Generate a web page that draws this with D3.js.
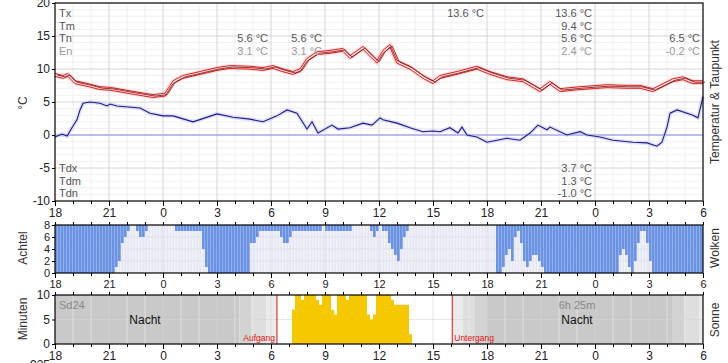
<!DOCTYPE html>
<html>
<head>
<meta charset="utf-8">
<script src="https://cdn.jsdelivr.net/npm/d3@7"></script>
<style>
body { margin: 0; background: #fff; }
text { font-family: "Liberation Sans", Arial, sans-serif; }
</style>
</head>
<body>
<div id="chart"></div>
<script>
// hours counted from 18:00 of the first day
var tickLabels = ["18", "21", "0", "3", "6", "9", "12", "15", "18", "21", "0", "3", "6"];

var tempHours = [0, 0.44, 0.72, 1.11, 1.78, 2.5, 3.06, 4.33, 5.44, 6.11, 6.56, 7.11, 8.06, 9.0, 9.72,
    10.83, 11.56, 12.11, 12.67, 13.22, 13.61, 14.0, 14.56, 15.28, 16.0, 16.39, 17.11, 17.89, 18.22, 18.61,
    19.0, 19.72, 20.44, 21.0, 21.39, 22.33, 23.44, 24.17, 25.11, 26.0, 26.94, 27.5, 28.06, 29.17, 30.67,
    31.78, 32.5, 33.22, 34.33, 34.89, 35.44, 36];
var tempValues = [9.1, 8.8, 9.1, 8.0, 7.6, 7.1, 7.0, 6.4, 5.9, 6.1, 8.0, 8.8, 9.4, 10.0, 10.3,
    10.2, 10.0, 10.3, 9.8, 9.4, 9.8, 11.4, 12.4, 12.6, 12.9, 11.8, 13.2, 11.1, 12.6, 13.5,
    11.1, 10.2, 8.8, 8.0, 8.8, 9.4, 10.2, 9.4, 8.6, 8.3, 6.8, 7.9, 6.8, 7.1, 7.4,
    7.3, 7.3, 6.8, 8.3, 8.6, 8.0, 8.0];

var dewHours = [0, 0.39, 0.67, 0.94, 1.22, 1.39, 1.56, 1.94, 2.5, 2.89, 3.06, 3.44, 4.72, 5.28, 6.0,
    6.56, 7.67, 9.0, 9.89, 10.83, 11.56, 12.33, 12.89, 13.44, 14.0, 14.28, 14.61, 15.39, 15.72, 16.39,
    17.11, 17.61, 18.06, 18.22, 19.0, 19.72, 20.44, 21.0, 21.39, 21.94, 22.39, 22.61, 22.89, 23.44, 24.0,
    24.56, 25.11, 25.83, 26.39, 26.83, 27.33, 27.5, 28.44, 29.17, 29.56, 30.28, 31.0, 32.11, 32.89, 33.44,
    33.72, 34.0, 34.17, 34.56, 35.44, 35.72, 36];
var dewValues = [-0.3, 0.15, -0.15, 1.1, 2.3, 3.8, 4.8, 5.0, 4.8, 4.4, 4.7, 4.4, 4.1, 3.3, 2.9,
    2.9, 2.0, 3.2, 2.7, 2.4, 2.0, 2.9, 3.8, 3.3, 0.9, 2.0, 0.3, 1.5, 0.9, 1.1,
    1.8, 1.5, 2.6, 2.3, 1.8, 1.1, 0.5, 0.6, 0.5, 1.1, 0.3, 1.2, 0, -0.3, -1.1,
    -0.8, -0.5, -0.8, 0.3, 1.5, 0.8, 1.2, 0, 0.5, 0, -0.3, -0.8, -1.1, -1.2, -1.7,
    -1.1, 1.2, 3.3, 3.8, 3.0, 2.6, 5.8];

// cloud cover in eighths, one value per 10 minutes
var cloudOkta = [
    8, 8, 8, 8, 8, 8, 8, 8, 8, 8, 8, 8, 8, 8, 8, 8, 8, 8, 8, 8,
    7, 6, 3, 2, 1, 0, 0, 1, 2, 2, 1, 0, 0, 0, 0, 0, 0, 0, 0, 0,
    1, 1, 1, 1, 1, 1, 1, 1, 1, 4, 7, 8, 8, 8, 8, 8, 8, 8, 8, 8,
    8, 8, 8, 8, 8, 3, 3, 2, 1, 1, 1, 1, 1, 1, 1, 2, 3, 3, 2, 1,
    1, 1, 1, 1, 1, 1, 1, 1, 1, 0, 1, 1, 1, 1, 1, 1, 1, 1, 1, 0,
    0, 0, 0, 0, 0, 1, 2, 1, 0, 1, 1, 3, 4, 5, 6, 4, 2, 1, 0, 0,
    0, 0, 0, 0, 0, 0, 0, 0, 0, 0, 0, 0, 0, 0, 0, 0, 0, 0, 0, 0,
    0, 0, 0, 0, 0, 0, 0, 8, 8, 7, 5, 4, 6, 2, 1, 3, 6, 7, 6, 5,
    5, 6, 7, 8, 8, 8, 8, 8, 8, 8, 8, 8, 8, 8, 8, 8, 8, 8, 8, 8,
    8, 8, 8, 8, 8, 8, 8, 8, 5, 4, 5, 7, 8, 6, 3, 1, 1, 3, 6, 8,
    8, 8, 8, 8, 8, 8, 8, 8, 8, 8, 8, 8, 8, 8, 8, 8
];

// sunshine minutes per 10 minutes, starting at slot 79 (07:10)
var sunFirstSlot = 79;
var sunMinutes = [7, 10, 10, 9, 10, 10, 10, 10, 9, 8, 10, 10, 10, 7, 6, 10, 10, 10, 9, 10,
    10, 10, 10, 10, 10, 6, 5, 6, 10, 10, 10, 10, 10, 9, 8, 8, 8, 8, 8, 2];

// light level: 0 night, 1 astronomical, 2 nautical, 3 civil twilight, 4 day
var lightStarts = [0, 10.25, 10.92, 11.75, 12.33, 22.07, 22.67, 23.33, 24, 34.28, 34.95, 35.78];
var lightLevels = [0, 1, 2, 3, 4, 3, 2, 1, 0, 1, 2, 3];
var sunrise = 12.33, sunset = 22.07;

var statNames = ["Tx", "Tm", "Tn", "En"];
var dewStatNames = ["Tdx", "Tdm", "Tdn"];
var statColumns = [
    { h: 12, vals: [null, null, "5.6 °C", "3.1 °C"] },
    { h: 15, vals: [null, null, "5.6 °C", "3.1 °C"] },
    { h: 24, vals: ["13.6 °C", null, null, null] },
    { h: 30, vals: ["13.6 °C", "9.4 °C", "5.6 °C", "2.4 °C"] },
    { h: 36, vals: [null, null, "6.5 °C", "-0.2 °C"] }
];
var dewStatColumns = [
    { h: 30, vals: ["3.7 °C", "1.3 °C", "-1.0 °C"] }
];

(function () {
    "use strict";

    var width = 728,
        height = 363,
        left = 55,
        right = 703,
        tempPanel = { top: 3, bottom: 201 },
        cloudPanel = { top: 225, bottom: 273 },
        sunPanel = { top: 295, bottom: 344 },
        x = d3.scaleLinear().domain([0, 36]).range([left, right]),
        yT = d3.scaleLinear().domain([-10, 20]).range([tempPanel.bottom, tempPanel.top]),
        yC = d3.scaleLinear().domain([0, 8]).range([cloudPanel.bottom, cloudPanel.top]),
        yS = d3.scaleLinear().domain([0, 10]).range([sunPanel.bottom, sunPanel.top]),
        lightColor = d3.scaleOrdinal().domain([0, 1, 2, 3, 4])
            .range(["#c9c9c9", "#d3d3d3", "#dedede", "#ebebeb", "#ffffff"]),
        slotHours = 1 / 6,
        svg = d3.select("#chart").append("svg")
            .attr("width", width)
            .attr("height", height);

    function grid(g, panel, yScale, minorY, majorY) {
        var hourTicks = d3.range(0, 37, 1);
        g.selectAll(".vminor").data(hourTicks.filter(function (h) { return h % 3; }))
            .enter().append("line")
            .attr("x1", x).attr("x2", x)
            .attr("y1", panel.top).attr("y2", panel.bottom)
            .attr("stroke", "#eeeeee");
        if (minorY) {
            g.selectAll(".hminor").data(minorY).enter().append("line")
                .attr("x1", left).attr("x2", right)
                .attr("y1", yScale).attr("y2", yScale)
                .attr("stroke", "#f1f1f1");
        }
        g.selectAll(".vmajor").data(d3.range(3, 36, 3))
            .enter().append("line")
            .attr("x1", x).attr("x2", x)
            .attr("y1", panel.top).attr("y2", panel.bottom)
            .attr("stroke", "#d6d6d6");
        g.selectAll(".hmajor").data(majorY).enter().append("line")
            .attr("x1", left).attr("x2", right)
            .attr("y1", yScale).attr("y2", yScale)
            .attr("stroke", "#d6d6d6");
    }

    function frame(panel, yScale, yTicks, fontSize, topAxis) {
        var g = svg.append("g");
        g.append("rect")
            .attr("x", left).attr("y", panel.top)
            .attr("width", right - left).attr("height", panel.bottom - panel.top)
            .attr("fill", "none").attr("stroke", "#000").attr("stroke-width", 1.2);

        var xb = g.append("g").attr("transform", "translate(0," + panel.bottom + ")")
            .call(d3.axisBottom(x).tickValues(d3.range(0, 37, 3))
                .tickFormat(function (d, i) { return tickLabels[i]; })
                .tickSize(5).tickPadding(2));
        xb.append("g").call(d3.axisBottom(x).tickValues(d3.range(0, 37, 1)).tickFormat("").tickSize(3));
        if (topAxis) {
            g.append("g").attr("transform", "translate(0," + panel.top + ")")
                .call(d3.axisTop(x).tickValues(d3.range(0, 37, 1)).tickFormat("").tickSize(3));
        }
        g.append("g").attr("transform", "translate(" + left + ",0)")
            .call(d3.axisLeft(yScale).tickValues(yTicks).tickSize(3).tickPadding(2)
                .tickFormat(function (d) { return String(d); }));

        g.selectAll(".domain").remove();
        g.selectAll(".tick line").attr("stroke", "#000");
        g.selectAll(".tick text")
            .attr("fill", "#222")
            .style("font-family", "'Liberation Sans', Arial, sans-serif")
            .style("font-size", fontSize + "px");
        return g;
    }

    function sideLabel(txt, xPos, yPos) {
        svg.append("text")
            .attr("transform", "translate(" + xPos + "," + yPos + ") rotate(-90)")
            .attr("text-anchor", "middle")
            .attr("fill", "#333")
            .style("font-size", "12px")
            .text(txt);
    }

    // ---------- temperature & dew point ----------
    var gT = svg.append("g");
    grid(gT, tempPanel, yT, d3.range(-9, 20, 1).filter(function (v) { return v % 5; }), [-5, 0, 5, 10, 15]);

    var temp = d3.zip(tempHours, tempValues),
        dew = d3.zip(dewHours, dewValues),
        line = function (off, dh) {
            return d3.line()
                .x(function (d) { return x(d[0] + (dh || 0)); })
                .y(function (d) { return yT(d[1] + off); });
        };

    gT.append("line")
        .attr("x1", left).attr("x2", right)
        .attr("y1", yT(0)).attr("y2", yT(0))
        .attr("stroke", "#8c8cf0").attr("stroke-width", 1);

    gT.append("path").datum(dew).attr("d", line(0))
        .attr("fill", "none").attr("stroke", "#c4c4f4").attr("stroke-width", 4).attr("stroke-opacity", 0.5);
    gT.append("path").datum(dew).attr("d", line(0))
        .attr("fill", "none").attr("stroke", "#1c1c8c").attr("stroke-width", 1.1);

    gT.append("path").datum(temp).attr("d", line(0))
        .attr("fill", "none").attr("stroke", "#ffb0b0").attr("stroke-width", 6).attr("stroke-opacity", 0.35);
    gT.append("path").datum(temp).attr("d", line(0.22))
        .attr("fill", "none").attr("stroke", "#e31c1c").attr("stroke-width", 1);
    gT.append("path").datum(temp).attr("d", line(-0.22))
        .attr("fill", "none").attr("stroke", "#e31c1c").attr("stroke-width", 1);
    gT.append("path").datum(temp).attr("d", line(0, 0.12))
        .attr("fill", "none").attr("stroke", "#5a1a1a").attr("stroke-width", 0.8);

    frame(tempPanel, yT, [-10, -5, 0, 5, 10, 15, 20], 12, false);

    var statG = svg.append("g").style("font-size", "11px");
    statNames.forEach(function (n, i) {
        statG.append("text").attr("x", left + 4).attr("y", 17 + i * 12.6)
            .attr("fill", i === 3 ? "#999" : "#555").text(n);
    });
    statColumns.forEach(function (c) {
        c.vals.forEach(function (v, i) {
            if (v === null) { return; }
            statG.append("text").attr("x", x(c.h) - 3).attr("y", 17 + i * 12.6)
                .attr("text-anchor", "end")
                .attr("fill", i === 3 ? "#999" : "#555").text(v);
        });
    });
    dewStatNames.forEach(function (n, i) {
        statG.append("text").attr("x", left + 4).attr("y", 172 + i * 12.6)
            .attr("fill", "#555").text(n);
    });
    dewStatColumns.forEach(function (c) {
        c.vals.forEach(function (v, i) {
            statG.append("text").attr("x", x(c.h) - 3).attr("y", 172 + i * 12.6)
                .attr("text-anchor", "end").attr("fill", "#555").text(v);
        });
    });

    // ---------- clouds ----------
    var gC = svg.append("g");
    grid(gC, cloudPanel, yC, null, [2, 4, 6]);
    var slotW = x(slotHours) - x(0);

    gC.selectAll(".slot").data(cloudOkta).enter().append("rect")
        .attr("x", function (d, i) { return x(i * slotHours) + 0.3; })
        .attr("y", cloudPanel.top)
        .attr("width", slotW - 0.8)
        .attr("height", cloudPanel.bottom - cloudPanel.top)
        .attr("fill", "#e5e5f3");
    gC.selectAll(".cloud").data(cloudOkta).enter().append("rect")
        .attr("x", function (d, i) { return x(i * slotHours); })
        .attr("y", yC(8))
        .attr("width", slotW - 0.3)
        .attr("height", function (d) { return yC(8 - d) - yC(8); })
        .attr("fill", "#6b93e3");

    frame(cloudPanel, yC, [0, 2, 4, 6, 8], 11, true);

    // ---------- sunshine ----------
    var gS = svg.append("g"),
        bands = lightStarts.map(function (s, i) {
            return { start: s, end: i + 1 < lightStarts.length ? lightStarts[i + 1] : 36, level: lightLevels[i] };
        });

    gS.selectAll(".band").data(bands).enter().append("rect")
        .attr("x", function (d) { return x(d.start); })
        .attr("y", sunPanel.top)
        .attr("width", function (d) { return x(d.end) - x(d.start); })
        .attr("height", sunPanel.bottom - sunPanel.top)
        .attr("fill", function (d) { return lightColor(d.level); });
    grid(gS, sunPanel, yS, null, [5]);
    gS.selectAll("line").attr("stroke-opacity", 0.55);

    gS.selectAll(".sun").data(sunMinutes).enter().append("rect")
        .attr("x", function (d, i) { return x((sunFirstSlot + i) * slotHours); })
        .attr("y", function (d) { return yS(d); })
        .attr("width", slotW)
        .attr("height", function (d) { return yS(0) - yS(d); })
        .attr("fill", "#f6c800");

    [sunrise, sunset].forEach(function (h) {
        gS.append("line")
            .attr("x1", x(h)).attr("x2", x(h))
            .attr("y1", sunPanel.top).attr("y2", sunPanel.bottom)
            .attr("stroke", "#e01010").attr("stroke-width", 1);
    });
    gS.append("text").attr("x", x(sunrise) - 2).attr("y", sunPanel.bottom - 3)
        .attr("text-anchor", "end").attr("fill", "#e01010").style("font-size", "8.5px").text("Aufgang");
    gS.append("text").attr("x", x(sunset) + 2).attr("y", sunPanel.bottom - 3)
        .attr("fill", "#e01010").style("font-size", "8.5px").text("Untergang");

    gS.append("text").attr("x", left + 4).attr("y", 309)
        .attr("fill", "#888").style("font-size", "11px").text("Sd24");
    gS.append("text").attr("x", x(29)).attr("y", 309).attr("text-anchor", "middle")
        .attr("fill", "#888").style("font-size", "11px").text("6h 25m");
    gS.append("text").attr("x", x(5)).attr("y", 324).attr("text-anchor", "middle")
        .attr("fill", "#111").style("font-size", "12px").text("Nacht");
    gS.append("text").attr("x", x(29)).attr("y", 324).attr("text-anchor", "middle")
        .attr("fill", "#111").style("font-size", "12px").text("Nacht");

    frame(sunPanel, yS, [0, 5, 10], 12, true);

    // next panel, cut off at the bottom edge
    svg.append("text").attr("x", 50).attr("y", 369).attr("text-anchor", "end")
        .attr("fill", "#222").style("font-size", "12px").text("925");

    sideLabel("°C", 27, 103);
    sideLabel("Achtel", 27, 248);
    sideLabel("Minuten", 27, 319);
    sideLabel("Temperatur & Taupunkt", 719, 102);
    sideLabel("Wolken", 719, 248);
    sideLabel("Sonne", 719, 320);
}());
</script>
</body>
</html>
